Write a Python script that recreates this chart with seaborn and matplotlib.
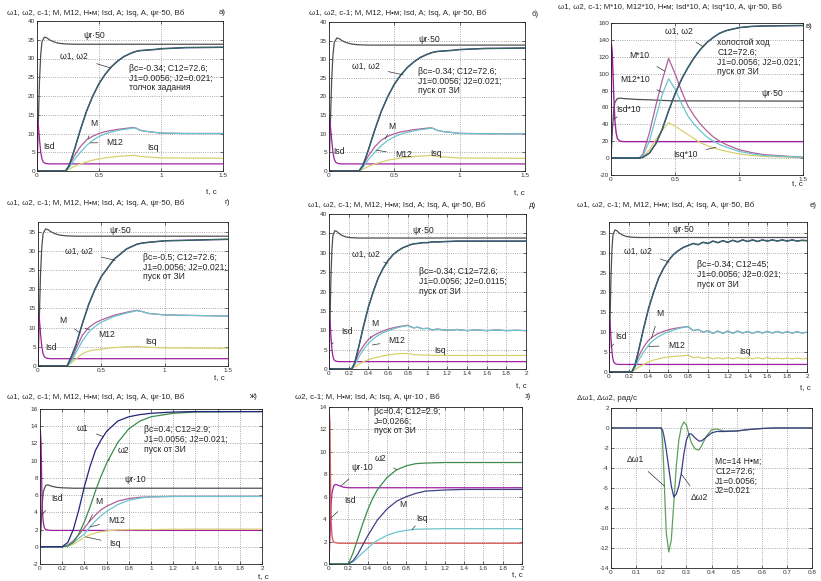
import matplotlib
matplotlib.use('agg')
import matplotlib.pyplot as plt
import seaborn as sns

# ---------------- data ----------------
# common start-up (panels а, б, г, д, е): flux and Isd
T_PSI = [0, 0.01, 0.02, 0.03, 0.04, 0.06, 0.08, 0.1, 0.13, 0.17, 0.22, 0.3, 2.0]
PSI50 = [0, 12, 24, 31, 34.5, 35.7, 35.5, 35.0, 34.5, 34.1, 33.9, 33.8, 33.8]
T_ISD = [0, 0.003, 0.01, 0.02, 0.03, 0.04, 0.05, 0.07, 0.1, 2.0]
ISD = [0, 14, 12.5, 8.5, 5, 3.2, 2.4, 2.0, 1.9, 1.9]

# panel а (and б)
T_A = [0, 0.23, 0.26, 0.3, 0.35, 0.4, 0.45, 0.5, 0.55, 0.6, 0.65, 0.7, 0.75, 0.78,
       0.8, 0.83, 0.87, 0.95, 1.0, 1.2, 1.5]
W_A = [0, 0, 1.5, 5.5, 11, 16, 20, 23.3, 25.8, 27.8, 29.3, 30.5, 31.3, 31.7,
       31.9, 32.1, 32.2, 32.4, 32.6, 32.9, 33]
M_A = [0, 0, 1.5, 4, 6.5, 8.3, 9.3, 10, 10.5, 10.8, 11.1, 11.3, 11.5, 11.6,
       11.4, 10.9, 10.6, 10.3, 10.1, 10, 10]
M12_A = [0, 0, 1, 3, 5, 6.8, 8.2, 9.2, 9.9, 10.4, 10.8, 11.1, 11.3, 11.5,
         11.4, 10.9, 10.6, 10.3, 10.1, 10, 10]
ISQ_A = [0, 0, 0.5, 1.2, 1.9, 2.4, 2.9, 3.2, 3.5, 3.7, 3.9, 4.0, 4.1, 4.2,
         4.1, 3.9, 3.8, 3.6, 3.5, 3.45, 3.4]

# panel в (x10 scaled)
T_V_PSI = [0, 0.01, 0.02, 0.03, 0.05, 0.07, 0.1, 0.2, 0.3, 0.4, 0.5, 1.5]
PSI50_V = [0, 30, 55, 66, 70.5, 71, 70.5, 69.5, 69, 68.3, 67.8, 67.5]
T_V_ISD = [0, 0.003, 0.01, 0.02, 0.03, 0.04, 0.05, 0.07, 0.1, 1.5]
ISD10_V = [0, 135, 125, 80, 45, 30, 23, 20, 19.5, 19.5]
T_V = [0, 0.22, 0.25, 0.3, 0.35, 0.4, 0.45, 0.5, 0.55, 0.6, 0.65, 0.7, 0.75, 0.8,
       0.85, 0.9, 1.0, 1.1, 1.2, 1.5]
W_V = [0, 0, 1, 6, 17, 34, 56, 76, 93, 107, 119, 129, 137, 143,
       148, 151, 154.5, 156, 156.5, 157]
M10_V = [0, 0, 5, 30, 62, 92, 118, 100, 80, 62, 50, 40, 32, 25,
         20, 16, 10, 6.5, 4, 1]
M12_10_V = [0, 0, 3, 20, 48, 75, 94, 82, 65, 50, 40, 32, 25, 20,
            16, 13, 8, 5, 3, 1]
ISQ10_V = [0, 0, 2, 10, 22, 33, 42, 38, 33, 28, 23, 18, 15, 12,
           10, 8, 5, 3, 2, 0.5]

# panel г
T_G = [0, 0.23, 0.27, 0.3, 0.35, 0.4, 0.45, 0.5, 0.6, 0.7, 0.78, 0.82, 0.87, 1.0, 1.5]
W_G = [0, 0, 3, 5.5, 11, 16, 20, 23.3, 27.8, 30.5, 31.7, 32.0, 32.2, 32.6, 33]
M_G = [0, 0, 2, 4.5, 8, 10, 11.2, 12, 13.2, 14, 14.5, 14.2, 13.7, 13.3, 13]
M12_G = [0, 0, 1.5, 3.5, 6.5, 8.8, 10.3, 11.4, 12.9, 13.8, 14.4, 14.2, 13.7, 13.3, 13]
ISQ_G = [0, 0, 1.0, 1.8, 3.2, 3.9, 4.2, 4.4, 4.8, 5.0, 5.1, 5.0, 4.9, 4.7, 4.6]

# panel д
T_D = [0, 0.23, 0.26, 0.3, 0.35, 0.4, 0.45, 0.5, 0.55, 0.6, 0.65, 0.7, 0.75, 0.8,
       0.83, 0.86, 0.9, 0.95, 1.0, 1.05, 1.1, 1.2, 1.3, 1.4, 1.5, 1.6, 1.7, 1.8, 1.9, 2.0]
W_D = [0, 0, 1.5, 5.5, 11, 16, 20, 23.5, 26, 28, 29.5, 30.5, 31.3, 31.8,
       32.1, 32.3, 32.4, 32.6, 32.6, 32.8, 32.8, 32.9, 33, 33, 33, 33, 33, 33, 33, 33]
M_D = [0, 0, 1.5, 4, 6, 7.6, 8.6, 9.3, 9.8, 10.3, 10.6, 10.9, 11.1, 11.3,
       10.9, 10.6, 10.8, 10.4, 10.5, 10.1, 10.3, 10.0, 10.2, 9.9, 10.1, 9.9, 10.1, 9.9, 10.0, 9.9]
M12_D = [0, 0, 1, 3, 5, 6.6, 7.8, 8.7, 9.4, 9.9, 10.3, 10.7, 11.0, 11.2,
         10.9, 10.6, 10.8, 10.4, 10.5, 10.1, 10.3, 10.0, 10.2, 9.9, 10.1, 9.9, 10.1, 9.9, 10.0, 9.9]
ISQ_D = [0, 0, 0.5, 1.2, 1.9, 2.4, 2.8, 3.1, 3.4, 3.6, 3.8, 3.9, 4.0, 4.0,
         3.9, 3.7, 3.7, 3.6, 3.6, 3.5, 3.55, 3.5, 3.5, 3.5, 3.5, 3.5, 3.5, 3.5, 3.5, 3.5]

# panel е
T_E = [0, 0.23, 0.26, 0.3, 0.35, 0.4, 0.45, 0.5, 0.55, 0.6, 0.65, 0.7, 0.75, 0.8,
       0.85, 0.9, 0.95, 1.0, 1.05, 1.1, 1.15, 1.2, 1.25, 1.3, 1.35, 1.4, 1.45, 1.5,
       1.55, 1.6, 1.65, 1.7, 1.75, 1.8, 1.85, 1.9, 1.95, 2.0]
W_E = [0, 0, 1.5, 5.5, 11, 16, 20, 23.5, 26, 28, 29.5, 30.5, 31.3, 31.8,
       32.3, 32.0, 32.6, 32.3, 32.9, 32.5, 33.0, 32.6, 33.1, 32.7, 33.2, 32.8, 33.2, 32.8,
       33.2, 32.9, 33.2, 32.9, 33.2, 32.9, 33.2, 32.9, 33.1, 33.0]
M_E = [0, 0, 1.5, 4, 6.3, 8.0, 9.0, 9.7, 10.2, 10.6, 10.9, 11.1, 11.3, 11.4,
       10.4, 10.7, 10.0, 10.4, 9.7, 10.3, 9.7, 10.3, 9.7, 10.3, 9.8, 10.2, 9.7, 10.2,
       9.8, 10.2, 9.8, 10.2, 9.8, 10.1, 9.8, 10.1, 9.8, 10.0]
M12_E = [0, 0, 1, 3, 5, 6.8, 8.0, 8.9, 9.6, 10.1, 10.5, 10.9, 11.2, 11.4,
         10.4, 10.7, 10.0, 10.4, 9.7, 10.3, 9.7, 10.3, 9.7, 10.3, 9.8, 10.2, 9.7, 10.2,
         9.8, 10.2, 9.8, 10.2, 9.8, 10.1, 9.8, 10.1, 9.8, 10.0]
ISQ_E = [0, 0, 0.5, 1.2, 1.9, 2.5, 3.0, 3.3, 3.6, 3.8, 3.9, 4.0, 4.1, 4.2,
         3.6, 3.8, 3.4, 3.7, 3.3, 3.6, 3.3, 3.6, 3.3, 3.6, 3.3, 3.6, 3.3, 3.6,
         3.3, 3.6, 3.3, 3.5, 3.3, 3.5, 3.3, 3.5, 3.3, 3.4]

# panel ж
T_ZH_PSI = [0, 0.01, 0.02, 0.03, 0.05, 0.07, 0.1, 0.15, 0.2, 0.3, 2.0]
PSI10_ZH = [0, 2.5, 5, 6.4, 7.1, 7.2, 7.05, 6.9, 6.85, 6.8, 6.8]
T_ZH_ISD = [0, 0.003, 0.01, 0.015, 0.02, 0.03, 0.04, 0.05, 0.07, 0.1, 2.0]
ISD_ZH = [0, 13.5, 12, 8, 4.5, 2.8, 2.2, 2.0, 1.95, 1.9, 1.9]
T_ZH = [0, 0.2, 0.25, 0.3, 0.35, 0.4, 0.45, 0.5, 0.55, 0.6, 0.7, 0.8, 0.9, 1.0, 1.2, 1.4, 2.0]
W1_ZH = [0, 0, 0.5, 2, 4.3, 7, 9.3, 11.2, 12.4, 13.4, 14.6, 15.1, 15.35, 15.5, 15.65, 15.7, 15.7]
W2_ZH = [0, 0, 0.1, 0.5, 1.5, 2.9, 4.6, 6.5, 8.2, 9.7, 12.1, 13.7, 14.6, 15.1, 15.5, 15.65, 15.7]
M_ZH = [0, 0, 0.2, 0.7, 1.4, 2.2, 3.0, 3.7, 4.3, 4.7, 5.3, 5.6, 5.75, 5.8, 5.85, 5.85, 5.85]
M12_ZH = [0, 0, 0.1, 0.5, 1.0, 1.5, 2.3, 3.0, 3.6, 4.1, 4.9, 5.4, 5.65, 5.8, 5.85, 5.85, 5.85]
ISQ_ZH = [0, 0, 0.1, 0.3, 0.7, 1.1, 1.4, 1.6, 1.75, 1.85, 1.95, 1.98, 2.0, 2.0, 2.03, 2.05, 2.05]

# panel з
T_Z_PSI = [0, 0.01, 0.02, 0.03, 0.05, 0.07, 0.1, 0.15, 0.2, 0.3, 2.0]
PSI10_Z = [0, 2.5, 5, 6.3, 7.0, 7.1, 7.0, 6.85, 6.8, 6.8, 6.8]
T_Z_ISD = [0, 0.003, 0.01, 0.015, 0.02, 0.03, 0.04, 0.05, 0.07, 0.1, 2.0]
ISD_Z = [0, 13.5, 12.5, 8, 4.2, 2.6, 2.1, 1.95, 1.9, 1.85, 1.85]
T_Z = [0, 0.2, 0.25, 0.3, 0.35, 0.4, 0.45, 0.5, 0.6, 0.7, 0.8, 0.9, 1.0, 1.2, 1.4, 2.0]
W2_Z = [0, 0, 1.0, 2.3, 3.6, 4.8, 5.8, 6.6, 7.7, 8.4, 8.75, 8.95, 9.0, 9.05, 9.05, 9.05]
M_Z = [0, 0, 0.3, 0.9, 1.7, 2.5, 3.2, 3.9, 4.9, 5.6, 6.0, 6.3, 6.5, 6.6, 6.65, 6.65]
ISQ_Z = [0, 0, 0.2, 0.6, 1.0, 1.4, 1.8, 2.1, 2.55, 2.85, 3.0, 3.1, 3.12, 3.15, 3.15, 3.15]

# panel и
T_I = [0, 0.2, 0.205, 0.21, 0.215, 0.22, 0.23, 0.24, 0.25, 0.26, 0.27, 0.28, 0.29, 0.30,
       0.31, 0.32, 0.335, 0.35, 0.36, 0.38, 0.40, 0.42, 0.45, 0.5, 0.55, 0.6, 0.65, 0.8]
DW1_I = [0, 0, -1.2, -4, -7.5, -10.5, -12.4, -11.2, -7.5, -3.8, -1.2, 0.1, 0.6, 0.3,
         -0.6, -1.5, -2.1, -2.2, -1.8, -0.8, -0.2, -0.1, -0.3, -0.3, -0.15, -0.05, 0, 0]
DW2_I = [0, 0, -0.2, -0.7, -1.4, -2.2, -4.0, -5.8, -6.9, -6.6, -5.8, -4.5, -2.6, -1.2,
         -0.6, -0.6, -1.0, -1.3, -1.3, -0.9, -0.5, -0.35, -0.35, -0.3, -0.15, -0.05, 0, 0]

TITLE_50 = "ω1, ω2, с-1; М, М12, Н•м; Isd, A; Isq, A, ψr·50, Вб"

C_PSI = '#505050'
C_W1 = '#24247a'
C_W2 = '#3c8c4c'
C_M = '#b0609a'
C_M12 = '#6cc4cc'
C_ISD = '#a020a0'
C_ISQ = '#d8d070'

sns.set_theme(style="ticks")
plt.rcParams['font.family'] = ['Liberation Sans', 'DejaVu Sans']

W, H = 821, 581
fig = plt.figure(figsize=(W / 100, H / 100), dpi=100)

FS_NOTE = 6.2
FS_TITLE = 5.7


def make_ax(l, r, t, b):
    return fig.add_axes([l / W, 1 - b / H, (r - l) / W, (b - t) / H])


def line(ax, x, y, color, lw=0.9):
    sns.lineplot(x=x, y=y, ax=ax, color=color, lw=lw, estimator=None, sort=False)


def setup(ax, xlim, ylim, xticks, yticks):
    ax.set_xlim(*xlim)
    ax.set_ylim(*ylim)
    ax.set_xticks(xticks)
    ax.set_yticks(yticks)
    ax.set_xticklabels(['%g' % v for v in xticks])
    ax.set_yticklabels(['%g' % v for v in yticks])
    ax.tick_params(direction='in', length=2, width=0.5, labelsize=4.6, pad=1.5,
                   colors='#333333', top=True, right=True)
    ax.grid(True, linestyle=':', linewidth=0.6, color='#909090')
    for s in ax.spines.values():
        s.set_linewidth(0.6)
        s.set_color('#222222')
    ax.set_xlabel('')
    ax.set_ylabel('')


def note(ax, text, xytext, xy=None, fs=FS_NOTE):
    if xy is None:
        ax.text(*xytext, text, fontsize=fs, ha='center', va='center')
    else:
        ax.annotate(text, xy=xy, xytext=xytext, fontsize=fs, ha='center', va='center',
                    arrowprops=dict(arrowstyle='-', lw=0.5, color='#333333',
                                    shrinkA=4, shrinkB=0))


def params(ax, x, y, text, fs=FS_NOTE):
    ax.text(x, y, text, fontsize=fs, ha='left', va='top', linespacing=1.1)


def ftext(x, y, s, fs=FS_TITLE, ha='left'):
    fig.text(x / W, 1 - y / H, s, fontsize=fs, ha=ha, va='center')


def standard(ax, t, w, m, m12, isq):
    line(ax, T_PSI, PSI50, C_PSI)
    line(ax, T_ISD, ISD, C_ISD)
    line(ax, t, isq, C_ISQ)
    line(ax, t, m, C_M)
    line(ax, t, m12, C_M12)
    line(ax, t, w, C_W1, 1.1)
    line(ax, t, w, C_W2, 0.5)


X15 = [0, 0.5, 1, 1.5]
X20 = [0, 0.2, 0.4, 0.6, 0.8, 1, 1.2, 1.4, 1.6, 1.8, 2]

# ---- а ----
ax = make_ax(37, 223, 21, 171)
standard(ax, T_A, W_A, M_A, M12_A, ISQ_A)
setup(ax, (0, 1.5), (0, 40), X15, range(0, 41, 5))
note(ax, 'ψr·50', (0.46, 36.2))
note(ax, 'ω1, ω2', (0.30, 30.5), (0.59, 27.5))
note(ax, 'M', (0.46, 12.8), (0.41, 8.6))
note(ax, 'M12', (0.63, 7.6), (0.43, 7.5))
note(ax, 'Isd', (0.10, 6.6))
note(ax, 'Isq', (0.94, 6.2))
params(ax, 0.74, 28.6, "βc=-0.34; C12=72.6;\nJ1=0.0056; J2=0.021;\nтолчок задания")
ftext(7, 13, TITLE_50)
ftext(219, 13, 'а)')
ftext(206, 192, 't, c')

# ---- б ----
ax = make_ax(329, 525, 22, 171)
standard(ax, T_A, W_A, M_A, M12_A, ISQ_A)
setup(ax, (0, 1.5), (0, 40), X15, range(0, 41, 5))
note(ax, 'ψr·50', (0.77, 35.2))
note(ax, 'ω1, ω2', (0.28, 28), (0.57, 25.8))
note(ax, 'M', (0.48, 11.9), (0.43, 8.6))
note(ax, 'M12', (0.57, 4.4), (0.36, 5.6))
note(ax, 'Isd', (0.08, 5.2))
note(ax, 'Isq', (0.82, 4.6))
params(ax, 0.68, 28.0, "βc=-0.34; C12=72.6;\nJ1=0.0056; J2=0.021;\nпуск от ЗИ")
ftext(309, 13, TITLE_50)
ftext(531, 14, 'б)')
ftext(514, 193, 't, c')

# ---- в ----
ax = make_ax(611, 803, 23, 175)
line(ax, T_V_PSI, PSI50_V, C_PSI)
line(ax, T_V_ISD, ISD10_V, C_ISD, 1.0)
line(ax, T_V, ISQ10_V, C_ISQ)
line(ax, T_V, M10_V, C_M)
line(ax, T_V, M12_10_V, C_M12)
line(ax, T_V, W_V, C_W1, 1.1)
line(ax, T_V, W_V, C_W2, 0.5)
setup(ax, (0, 1.5), (-20, 160), X15, range(-20, 161, 20))
note(ax, 'ω1, ω2', (0.53, 150), (0.72, 132))
note(ax, 'M*10', (0.22, 121), (0.42, 103))
note(ax, 'M12*10', (0.19, 93), (0.40, 78))
note(ax, 'Isd*10', (0.14, 58), (0.02, 46))
note(ax, 'ψr·50', (1.26, 77))
note(ax, 'Isq*10', (0.58, 4), (0.82, 13))
params(ax, 0.83, 142, "холостой ход\nC12=72.6;\nJ1=0.0056; J2=0.021;\nпуск от ЗИ")
ftext(558, 7, "ω1, ω2, с-1; М*10, М12*10, Н•м; Isd*10, A; Isq*10, A, ψr·50, Вб")
ftext(805, 26, 'в)')
ftext(792, 184, 't, c')

# ---- г ----
ax = make_ax(38, 228, 222, 366)
standard(ax, T_G, W_G, M_G, M12_G, ISQ_G)
setup(ax, (0, 1.5), (0, 37.5), X15, range(0, 36, 5))
note(ax, 'ψr·50', (0.65, 35.2))
note(ax, 'ω1, ω2', (0.32, 29.8), (0.61, 27.5))
note(ax, 'M', (0.20, 11.9), (0.33, 8.6))
note(ax, 'M12', (0.54, 8.2), (0.37, 9.8))
note(ax, 'Isd', (0.10, 4.7))
note(ax, 'Isq', (0.89, 6.3))
params(ax, 0.83, 29.5, "βc=-0.5; C12=72.6;\nJ1=0.0056; J2=0.021;\nпуск от ЗИ")
ftext(7, 203, TITLE_50)
ftext(224, 203, 'г)')
ftext(214, 378, 't, c')

# ---- д ----
ax = make_ax(329, 526, 214, 369)
standard(ax, T_D, W_D, M_D, M12_D, ISQ_D)
setup(ax, (0, 2), (0, 40), X20, range(0, 41, 5))
note(ax, 'ψr·50', (0.96, 35.8))
note(ax, 'ω1, ω2', (0.38, 29.6), (0.59, 27.2))
note(ax, 'M', (0.47, 11.8), (0.42, 8.0))
note(ax, 'M12', (0.69, 7.3), (0.44, 6.2))
note(ax, 'Isd', (0.18, 9.6), (0.03, 6.5))
note(ax, 'Isq', (1.13, 4.9))
params(ax, 0.91, 26.2, "βc=-0.34; C12=72.6;\nJ1=0.0056; J2=0.0115;\nпуск от ЗИ")
ftext(308, 205, TITLE_50)
ftext(529, 206, 'д)')
ftext(516, 386, 't, c')

# ---- е ----
ax = make_ax(609, 807, 222, 372)
standard(ax, T_E, W_E, M_E, M12_E, ISQ_E)
setup(ax, (0, 2), (0, 37.7), X20, range(0, 36, 5))
note(ax, 'ψr·50', (0.75, 35.8))
note(ax, 'ω1, ω2', (0.29, 30.4), (0.61, 27.6))
note(ax, 'M', (0.51, 14.8), (0.43, 8.6))
note(ax, 'M12', (0.68, 6.7), (0.40, 6.4))
note(ax, 'Isd', (0.12, 9.0), (0.02, 6.3))
note(ax, 'Isq', (1.375, 5.1))
params(ax, 0.885, 28.1, "βc=-0.34; C12=45;\nJ1=0.0056; J2=0.021;\nпуск от ЗИ")
ftext(577, 205, TITLE_50)
ftext(810, 206, 'е)')
ftext(800, 388, 't, c')

# ---- ж ----
ax = make_ax(40, 262, 409, 564)
line(ax, T_ZH_PSI, PSI10_ZH, C_PSI)
line(ax, T_ZH_ISD, ISD_ZH, C_ISD)
line(ax, T_ZH, ISQ_ZH, C_ISQ)
line(ax, T_ZH, M_ZH, C_M)
line(ax, T_ZH, M12_ZH, C_M12)
line(ax, T_ZH, W2_ZH, C_W2)
line(ax, T_ZH, W1_ZH, C_W1)
setup(ax, (0, 2), (-2, 16), X20, range(-2, 17, 2))
note(ax, 'ω1', (0.38, 13.7), (0.57, 12.8))
note(ax, 'ω2', (0.75, 11.2), (0.61, 10.0))
note(ax, 'ψr·10', (0.86, 7.8))
note(ax, 'Isd', (0.15, 5.6), (0.015, 3.7))
note(ax, 'M', (0.53, 5.2), (0.44, 2.9))
note(ax, 'M12', (0.69, 3.1), (0.45, 2.3))
note(ax, 'Isq', (0.68, 0.4), (0.41, 1.15))
params(ax, 0.94, 14.1, "βc=0.4; C12=2.9;\nJ1=0.0056; J2=0.021;\nпуск от ЗИ")
ftext(7, 397, "ω1, ω2, с-1; М, М12, Н•м; Isd, A; Isq, A, ψr·10, Вб")
ftext(249, 397, 'ж)')
ftext(258, 577, 't, c')

# ---- з ----
ax = make_ax(329, 522, 407, 564)
line(ax, T_Z_PSI, PSI10_Z, C_ISD)
line(ax, T_Z_ISD, ISD_Z, '#d86060', 1.0)
line(ax, T_Z, ISQ_Z, C_M12)
line(ax, T_Z, M_Z, '#404088')
line(ax, T_Z, W2_Z, C_W2)
setup(ax, (0, 2), (0, 14), X20, range(0, 15, 2))
note(ax, 'ω2', (0.53, 9.4), (0.70, 8.4))
note(ax, 'ψr·10', (0.34, 8.6), (0.13, 7.0))
note(ax, 'Isd', (0.22, 5.7), (0.02, 4.1))
note(ax, 'M', (0.77, 5.3))
note(ax, 'Isq', (0.96, 4.1), (0.86, 3.05))
params(ax, 0.47, 14.0, "βc=0.4; C12=2.9;\nJ=0.0266;\nпуск от ЗИ")
ftext(295, 397, "ω2, с-1; М, Н•м; Isd, A; Isq, A, ψr·10 , Вб")
ftext(525, 397, 'з)')
ftext(512, 575, 't, c')

# ---- и ----
ax = make_ax(611, 812, 408, 568)
line(ax, T_I, DW1_I, '#5ea05e')
line(ax, T_I, DW2_I, '#3c3c88')
setup(ax, (0, 0.8), (-14, 2), [0, 0.1, 0.2, 0.3, 0.4, 0.5, 0.6, 0.7, 0.8], range(-14, 3, 2))
note(ax, 'Δω1', (0.097, -3.2), (0.212, -5.8))
note(ax, 'Δω2', (0.35, -7.0), (0.28, -4.6))
params(ax, 0.415, -2.9, "Mc=14 Н•м;\nC12=72.6;\nJ1=0.0056;\nJ2=0.021")
ftext(577, 399, "Δω1, Δω2, рад/с")

fig.savefig('out.png', dpi=100)
